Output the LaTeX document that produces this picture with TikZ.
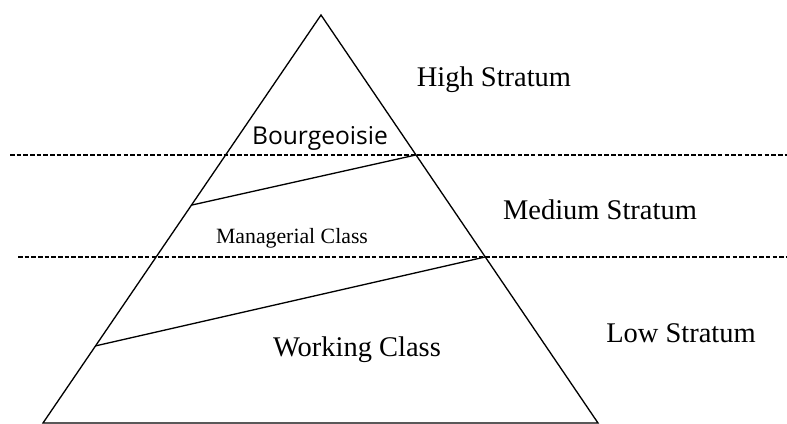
\documentclass[tikz,border=0pt]{standalone}
\usepackage{fontspec}
\setmainfont{Liberation Serif}
\newfontfamily\uifont{Open Sans}
\usepackage{tikz}
\usetikzlibrary{calc}

\tikzset{
  stratum/.style={font=\fontsize{16.2}{18}\selectfont},
  classlbl/.style={font=\fontsize{12.4}{14}\selectfont},
  divider/.style={dashed,dash pattern=on 2.6pt off 1.2pt,line width=0.6pt},
  edge/.style={line width=0.75pt}
}

\begin{document}
\begin{tikzpicture}
            \useasboundingbox (0,0) rectangle (15.74,8.46);
            % pyramid corners
            \coordinate (top) at (6.42,8.16);
            \coordinate (bl) at (0.86,0.0);
            \coordinate (br) at (11.96,0.0);
            \draw[edge] (top) -- (bl) -- (br) -- cycle;
            % ends of the slanted class borders
            \coordinate (r1) at ($(top)!0.343!(br)$);
            \coordinate (l1) at ($(top)!0.466!(bl)$);
            \coordinate (r2) at ($(top)!0.593!(br)$);
            \coordinate (l2) at ($(top)!0.811!(bl)$);
            \draw[edge] (l1) to (r1);
            \draw[edge] (l2) to (r2);
            % strata borders
            \coordinate (d1a) at (0.2,5.36);
            \coordinate (d1b) at (15.74,5.36);
            \coordinate (d2a) at (0.36,3.32);
            \coordinate (d2b) at (15.74,3.32);
            \draw[divider] (d1a) -- (d1b);
            \draw[divider] (d2a) -- (d2b);
            \node[font=\uifont\fontsize{14}{16}\selectfont] at (6.4,5.7) (bour) {Bourgeoisie};
            \node[classlbl] at (5.84,3.7) (man) {Managerial Class};
            \node[stratum] at (7.14,1.46) (work) {Working Class};
            \node[stratum] at (9.88,6.86) (high) {High Stratum};
            \node[stratum] at (12.0,4.26) (med) {Medium Stratum};
            \node[stratum] at (13.62,1.8) (low) {Low Stratum};
        \end{tikzpicture}
\end{document}
